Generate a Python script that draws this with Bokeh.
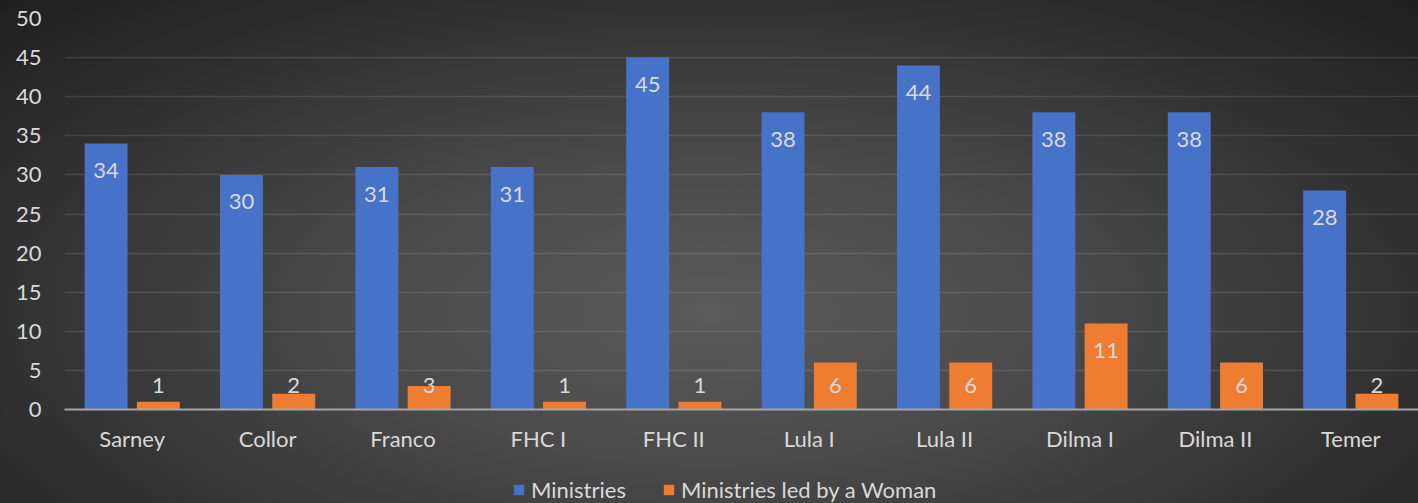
from bokeh.plotting import figure
from bokeh.layouts import column
from bokeh.models import (ColumnDataSource, FactorRange, Range1d, Legend, LegendItem,
                          InlineStyleSheet, SingleIntervalTicker)
from bokeh.transform import dodge
from bokeh.core.properties import value
from bokeh.embed import file_html
from bokeh.resources import INLINE

categories = ["Sarney", "Collor", "Franco", "FHC I", "FHC II", "Lula I", "Lula II",
              "Dilma I", "Dilma II", "Temer"]
ministries = [34, 30, 31, 31, 45, 38, 44, 38, 38, 28]
women = [1, 2, 3, 1, 1, 6, 6, 11, 6, 2]
series_names = ["Ministries", "Ministries led by a Woman"]

FONT = "Lato"
TXT = "#d9d9d9"
BLUE = "#4673c8"
ORANGE = "#ee7d31"

def label_pos(vals):
    return [max(v - 3.45, 3.07) for v in vals]

src = ColumnDataSource(dict(
    cat=categories, m=ministries, w=women,
    m_txt=[str(v) for v in ministries], w_txt=[str(v) for v in women],
    m_lab=label_pos(ministries), w_lab=label_pos(women),
))

p = figure(width=1418, height=463, x_range=FactorRange(factors=categories, range_padding=0),
           y_range=Range1d(0, 50), output_backend="svg", toolbar_location=None,
           min_border_left=64, min_border_right=0, min_border_top=18, min_border_bottom=54)

p.background_fill_alpha = 0
p.border_fill_alpha = 0
p.outline_line_color = None

OFF = 0.193
BW = 0.317
r1 = p.vbar(x=dodge("cat", -OFF, range=p.x_range), top="m", width=BW, source=src,
            fill_color=BLUE, line_color=None)
r2 = p.vbar(x=dodge("cat", OFF, range=p.x_range), top="w", width=BW, source=src,
            fill_color=ORANGE, line_color=None)

p.text(x=dodge("cat", -OFF, range=p.x_range), y="m_lab", text="m_txt", source=src,
       text_align="center", text_baseline="middle", text_color=TXT,
       text_font=value(FONT), text_font_size="22px")
p.text(x=dodge("cat", OFF, range=p.x_range), y="w_lab", text="w_txt", source=src,
       text_align="center", text_baseline="middle", text_color=TXT,
       text_font=value(FONT), text_font_size="22px")

# axes
p.yaxis.ticker = SingleIntervalTicker(interval=5)
p.yaxis.axis_line_color = None
p.yaxis.major_tick_line_color = None
p.yaxis.minor_tick_line_color = None
p.yaxis.major_label_text_font = FONT
p.yaxis.major_label_text_font_size = "22px"
p.yaxis.major_label_text_color = TXT
p.yaxis.major_label_standoff = 17

p.xaxis.axis_line_color = "#a6a6a6"
p.xaxis.axis_line_width = 2
p.xaxis.major_tick_line_color = None
p.xaxis.minor_tick_line_color = None
p.xaxis.major_label_text_font = FONT
p.xaxis.major_label_text_font_size = "22px"
p.xaxis.major_label_text_color = TXT
p.xaxis.major_label_standoff = 9

p.xgrid.grid_line_color = None
p.ygrid.grid_line_color = "#ffffff"
p.ygrid.grid_line_alpha = 0.12
p.ygrid.grid_line_width = 1.5

# legend strip below the chart (proxy glyphs sit outside its visible range)
pl = figure(width=1418, height=40, x_range=Range1d(0, 1), y_range=Range1d(0, 1),
            x_axis_location=None, y_axis_location=None,
            output_backend="svg", toolbar_location=None,
            min_border_left=0, min_border_right=0, min_border_top=0, min_border_bottom=0)
pl.grid.grid_line_color = None
pl.background_fill_alpha = 0
pl.border_fill_alpha = 0
pl.outline_line_color = None
l1 = pl.vbar(x=[5], top=[5], bottom=[4], width=0.1, fill_color=BLUE, line_color=None)
l2 = pl.vbar(x=[5], top=[5], bottom=[4], width=0.1, fill_color=ORANGE, line_color=None)

legend = Legend(items=[LegendItem(label=series_names[0], renderers=[l1]),
                       LegendItem(label=series_names[1], renderers=[l2])],
                orientation="horizontal", location=(448, 0),
                label_text_font=FONT, label_text_font_size="22px", label_text_color=TXT,
                glyph_width=13, glyph_height=13, label_standoff=6, spacing=36,
                background_fill_alpha=0, border_line_color=None,
                padding=0, margin=0)
pl.add_layout(legend, "center")

layout = column(p, pl, spacing=0,
                stylesheets=[InlineStyleSheet(css=":host{background: radial-gradient(ellipse farthest-corner at 50% 62%, #5a5a5a 0%, #4a4a4a 35%, #2e2e2e 75%, #1f1f1f 100%);}")])

html = file_html(layout, INLINE)
html = html.replace("<head>", "<head><style>html,body{margin:0;padding:0;background:#2a2a2a;}</style>", 1)
open("out.html", "w").write(html)
